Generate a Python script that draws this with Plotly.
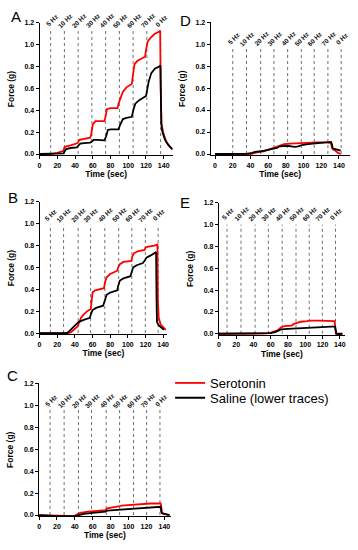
import plotly.graph_objects as go

W, H = 358, 550

hz_labels = ["5 Hz", "10 Hz", "20 Hz", "30 Hz", "40 Hz", "50 Hz", "60 Hz", "70 Hz", "0 Hz"]

# stimulation onset times (sec) per panel
stim_A = [12.5, 28, 43.5, 59, 74.5, 90, 105.5, 121, 136.5]
stim_B = [12.3, 27.2, 43.7, 57.8, 73.9, 89.6, 104.5, 119.8, 134.3]
stim_C = [12.3, 28, 44, 58.6, 75, 90, 105.6, 120.2, 135.1]
stim_D = [20, 35.5, 51.5, 66.5, 82, 97.5, 112, 127.5, 142.5]
stim_E = [9.5, 25.6, 42, 57.3, 73.3, 89.3, 104.6, 119.8, 135]

# Panel A
A_ser_t = [0, 12, 20, 27, 28, 30, 35, 40, 43, 45, 50, 57, 58, 60, 63, 73, 74, 76, 80, 88, 89, 91, 94, 98, 104, 105, 107, 110, 119, 120, 122, 126, 130, 135, 136, 136.6, 137.5, 140, 143, 146, 150]
A_ser_f = [0, 0, 0.01, 0.03, 0.06, 0.07, 0.08, 0.09, 0.10, 0.13, 0.14, 0.15, 0.17, 0.27, 0.30, 0.30, 0.33, 0.41, 0.42, 0.42, 0.46, 0.50, 0.57, 0.61, 0.64, 0.70, 0.82, 0.85, 0.89, 0.95, 1.03, 1.07, 1.10, 1.12, 1.13, 0.60, 0.27, 0.18, 0.11, 0.075, 0.045]
A_sal_t = [0, 27, 28, 30, 35, 42, 44, 46, 50, 57, 59, 61, 65, 73, 75, 77, 80, 89, 91, 94, 98, 104, 106, 108, 112, 120, 121, 123, 126, 130, 135, 136.3, 137.3, 138.5, 141.5, 145, 150]
A_sal_f = [0, 0.005, 0.02, 0.045, 0.055, 0.06, 0.08, 0.095, 0.10, 0.105, 0.115, 0.13, 0.13, 0.125, 0.16, 0.22, 0.225, 0.225, 0.27, 0.32, 0.33, 0.34, 0.41, 0.46, 0.49, 0.53, 0.57, 0.66, 0.74, 0.78, 0.80, 0.81, 0.28, 0.20, 0.13, 0.085, 0.04]

# Panel B
B_ser_t = [0, 33, 36, 40, 43, 45, 47, 50, 54, 58, 59, 60, 63, 73, 74, 76, 80, 88, 89, 91, 95, 104, 105, 107, 112, 119, 120, 123, 130, 133.5, 134, 135, 137, 140, 143]
B_ser_f = [0, 0, 0.01, 0.04, 0.06, 0.10, 0.14, 0.17, 0.20, 0.22, 0.30, 0.37, 0.39, 0.41, 0.46, 0.51, 0.54, 0.57, 0.60, 0.63, 0.65, 0.66, 0.70, 0.73, 0.75, 0.76, 0.78, 0.79, 0.80, 0.81, 0.30, 0.14, 0.08, 0.05, 0.03]
B_sal_t = [0, 31, 34, 38, 41, 44, 50, 57, 58, 60, 64, 72, 74, 76, 80, 88, 89, 91, 95, 103, 104, 106, 110, 117, 119, 121, 126, 131, 132, 132.5, 133, 135, 138, 141]
B_sal_f = [0, 0, 0.02, 0.05, 0.08, 0.10, 0.12, 0.14, 0.17, 0.21, 0.23, 0.25, 0.30, 0.35, 0.37, 0.39, 0.43, 0.48, 0.50, 0.52, 0.55, 0.60, 0.62, 0.64, 0.66, 0.69, 0.71, 0.73, 0.74, 0.30, 0.10, 0.07, 0.05, 0.03]

# Panel C
C_ser_t = [0, 10, 20, 30, 40, 44, 46, 55, 60, 74, 76, 85, 90, 92, 100, 105, 110, 120, 125, 136, 136.5, 137.5, 140, 145]
C_ser_f = [0, -0.003, -0.008, -0.008, -0.005, 0.01, 0.02, 0.03, 0.035, 0.045, 0.06, 0.07, 0.08, 0.085, 0.09, 0.095, 0.10, 0.10, 0.105, 0.105, 0.05, 0.02, 0.01, 0.0]
C_sal_t = [0, 20, 40, 44, 50, 60, 74, 76, 85, 90, 92, 100, 105, 110, 120, 130, 136, 136.5, 137.5, 140, 143, 146]
C_sal_f = [0, -0.01, -0.01, 0.0, 0.01, 0.02, 0.03, 0.04, 0.045, 0.05, 0.055, 0.06, 0.06, 0.065, 0.07, 0.075, 0.075, 0.03, 0.015, 0.01, 0.005, 0.0]

# Panel D
D_ser_t = [0, 10, 20, 30, 38, 42, 50, 55, 60, 65, 70, 73, 78, 85, 95, 105, 115, 125, 131, 132, 133, 136, 139, 142]
D_ser_f = [0, -0.005, -0.01, -0.01, -0.005, 0.005, 0.02, 0.025, 0.04, 0.05, 0.065, 0.08, 0.09, 0.095, 0.10, 0.105, 0.105, 0.105, 0.10, 0.06, 0.045, 0.03, 0.01, 0.0]
D_sal_t = [0, 20, 35, 42, 45, 52, 58, 64, 68, 70, 73, 78, 82, 86, 90, 94, 98, 105, 112, 120, 127, 131, 132, 133, 136, 139, 142]
D_sal_f = [0, 0, 0.002, 0.01, 0.02, 0.025, 0.035, 0.04, 0.045, 0.055, 0.07, 0.075, 0.075, 0.07, 0.065, 0.07, 0.08, 0.09, 0.095, 0.10, 0.105, 0.11, 0.09, 0.05, 0.045, 0.035, 0.03]

# Panel E
E_ser_t = [0, 40, 55, 60, 65, 68, 70, 72, 76, 84, 87, 90, 95, 102, 105, 115, 125, 134, 134.7, 135.5, 137, 143]
E_ser_f = [0, 0, 0.003, 0.01, 0.02, 0.03, 0.045, 0.06, 0.07, 0.075, 0.09, 0.10, 0.11, 0.115, 0.12, 0.12, 0.12, 0.115, 0.06, 0.0, -0.005, -0.005]
E_sal_t = [0, 50, 60, 65, 70, 72, 80, 90, 100, 110, 120, 130, 134.5, 135.2, 136, 143]
E_sal_f = [0, 0, 0.005, 0.015, 0.03, 0.04, 0.045, 0.05, 0.055, 0.06, 0.065, 0.065, 0.065, 0.03, 0.0, 0.0]

Y_RANGE = [-0.012, 1.2]
X_TICKS = [0, 20, 40, 60, 80, 100, 120, 140]
Y_TICKS = [0, 0.2, 0.4, 0.6, 0.8, 1.0, 1.2]

panels = [
    dict(letter="A", st=A_ser_t, sf=A_ser_f, lt=A_sal_t, lf=A_sal_f, stim=stim_A,
         xr=[0, 150], px=(38, 172.5, 153, 19), top=1.125, lab=1.225, lp=(14, 13)),
    dict(letter="B", st=B_ser_t, sf=B_ser_f, lt=B_sal_t, lf=B_sal_f, stim=stim_B,
         xr=[0, 144.5], px=(38, 167, 334, 200), top=0.99, lab=1.08, lp=(11, 196)),
    dict(letter="C", st=C_ser_t, sf=C_ser_f, lt=C_sal_t, lf=C_sal_f, stim=stim_C,
         xr=[0, 147], px=(37.5, 170.5, 518, 383.3), top=0.99, lab=1.045, lp=(11, 376)),
    dict(letter="D", st=D_ser_t, sf=D_ser_f, lt=D_sal_t, lf=D_sal_f, stim=stim_D,
         xr=[-5, 152], px=(211, 351.5, 153, 18.3), top=0.98, lab=1.05, lp=(186, 17)),
    dict(letter="E", st=E_ser_t, sf=E_ser_f, lt=E_sal_t, lf=E_sal_f, stim=stim_E,
         xr=[0, 145.8], px=(219.3, 346.7, 334.7, 201), top=1.0, lab=1.10, lp=(185, 201)),
]

fig = go.Figure()
annotations = []
FONT = "Liberation Sans"
tickfont = dict(family=FONT, size=7, color="black", weight="bold")
titlefont = dict(family=FONT, size=8.5, color="black", weight="bold")

for i, p in enumerate(panels):
    n = "" if i == 0 else str(i + 1)
    xa, ya = "x" + n, "y" + n
    vx, vy = [], []
    for t in p["stim"]:
        vx += [t, t, None]
        vy += [0, p["top"], None]
    fig.add_trace(go.Scatter(x=vx, y=vy, mode="lines", xaxis=xa, yaxis=ya,
                             line=dict(color="#707070", width=1, dash="dot"),
                             showlegend=False, hoverinfo="skip"))
    fig.add_trace(go.Scatter(x=p["st"], y=p["sf"], mode="lines", xaxis=xa, yaxis=ya,
                             line=dict(color="#ff0000", width=1.8), name="Serotonin",
                             showlegend=(i == 0), legend="legend"))
    fig.add_trace(go.Scatter(x=p["lt"], y=p["lf"], mode="lines", xaxis=xa, yaxis=ya,
                             line=dict(color="#000000", width=1.8), name="Saline (lower traces)",
                             showlegend=(i == 0), legend="legend2"))
    lab_dom = (p["lab"] - Y_RANGE[0]) / (Y_RANGE[1] - Y_RANGE[0])
    for t, lab in zip(p["stim"], hz_labels):
        annotations.append(dict(x=t + 1.0, y=lab_dom, xref=xa, yref=ya + " domain", text=lab,
                                textangle=-45, showarrow=False, xanchor="center", yanchor="middle",
                                font=dict(family=FONT, size=6.5, color="#111111", weight="bold")))
    annotations.append(dict(x=p["lp"][0] / W, y=1 - p["lp"][1] / H, xref="paper", yref="paper",
                            text=p["letter"], showarrow=False, xanchor="center", yanchor="middle",
                            font=dict(family=FONT, size=15, color="black")))
    x0, x1, yb, yt = p["px"]
    fig.update_layout(**{
        ("xaxis" + n): dict(domain=[x0 / W, x1 / W], range=p["xr"], anchor=ya,
                           tickvals=X_TICKS, showline=True, linecolor="black", linewidth=1,
                           ticks="outside", ticklen=3, tickcolor="black", showgrid=False,
                           zeroline=False, tickfont=tickfont,
                           title=dict(text="Time (sec)", font=titlefont, standoff=3)),
        ("yaxis" + n): dict(domain=[1 - yb / H, 1 - yt / H], range=Y_RANGE, anchor=xa,
                           tickvals=Y_TICKS, tickformat=".1f",
                           showline=True, linecolor="black", linewidth=1,
                           ticks="outside", ticklen=3, tickcolor="black", showgrid=False,
                           zeroline=False, tickfont=tickfont,
                           title=dict(text="Force (g)", font=titlefont, standoff=8)),
    })

legfont = dict(family=FONT, size=13, color="black")
fig.update_layout(
    width=W, height=H,
    margin=dict(l=0, r=0, t=0, b=0),
    paper_bgcolor="white", plot_bgcolor="white",
    annotations=annotations,
    showlegend=True,
    legend=dict(x=170 / W, y=1 - 368 / H, xanchor="left", yanchor="top", font=legfont,
                bgcolor="rgba(0,0,0,0)", borderwidth=0),
    legend2=dict(x=170 / W, y=1 - 383 / H, xanchor="left", yanchor="top", font=legfont,
                 bgcolor="rgba(0,0,0,0)", borderwidth=0),
)

fig.write_html("out.html", config={"displayModeBar": False},
               post_script="document.body.style.margin='0';document.body.style.overflow='hidden';")
